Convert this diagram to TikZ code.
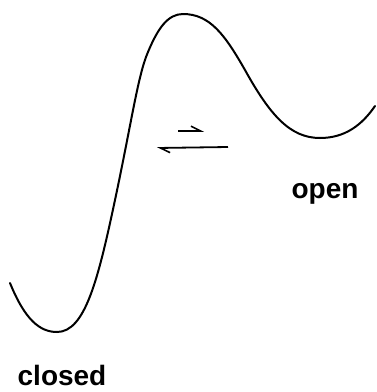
\documentclass[tikz,border=0pt]{standalone}
\usepackage{fontspec}
\usepackage{tikz}
\usetikzlibrary{arrows.meta, positioning, calc}
\newfontfamily\statefont{Liberation Sans}
\tikzset{
	profile/.style  ={line width=2pt, line cap=round, line join=round},
	harp/.style     ={line width=1.8pt, -{Straight Barb[harpoon, left, length=3.4mm, width=3.4mm, line width=1.6pt]}},
	statelbl/.style ={font=\statefont\bfseries\fontsize{28}{30}\selectfont, inner sep=0pt, anchor=base},
}
\begin{document}
\begin{tikzpicture}[x=1pt, y=-1pt]
	\useasboundingbox (0,0) rectangle (377,392);
	\coordinate (start) at (10,283);
	\coordinate (wellA) at (57,332);
	\coordinate (rise) at (115,200);
	\coordinate (shoulder) at (148,52);
	\coordinate (barrier) at (183,14);
	\coordinate (fall) at (245,70);
	\coordinate (wellB) at (320,138);
	\coordinate (stop) at (375,106);
	\draw[profile] (start) .. controls (25,320) and (40,332) .. (wellA)
		.. controls (85,332) and (98,280) .. (rise)
		.. controls (132,120) and (138,75) .. (shoulder)
		.. controls (158,28) and (168,14) .. (barrier)
		.. controls (210,14) and (225,35) .. (fall)
		.. controls (270,115) and (290,138) .. (wellB)
		.. controls (345,138) and (362,125) .. (stop);
	% equilibrium harpoons
	\coordinate (fwdA) at (178,131);
	\coordinate (fwdB) at (204,131);
	\coordinate (revA) at (228,147);
	\coordinate (revB) at (157,148);
	\draw[harp] (fwdA) -- (fwdB);
	\draw[harp] (revA) -- (revB);
	\node[statelbl] (open) at (325,198) {open};
	\node[statelbl] (closed) at (62,385) {closed};
\end{tikzpicture}
\end{document}
